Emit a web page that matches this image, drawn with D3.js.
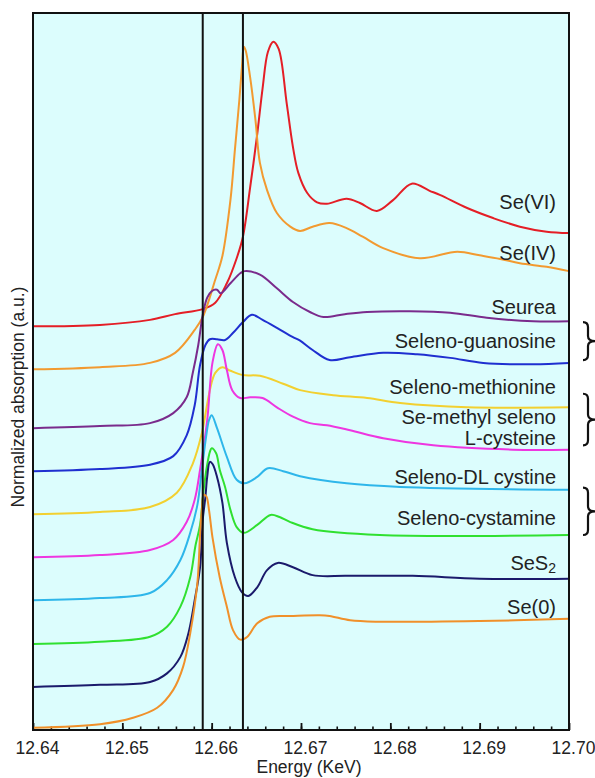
<!DOCTYPE html>
<html>
<head>
<meta charset="utf-8">
<script src="https://cdn.jsdelivr.net/npm/d3@7"></script>
<style>
  body { margin: 0; background: #fff; }
  svg text { font-family: "Liberation Sans", Arial, sans-serif; fill: #222; }
</style>
</head>
<body>
<script>
// Se K-edge XANES, energy (keV) vs normalized absorption (a.u., stacked with offsets)
const seVI = [[12.64,5.63],[12.6475,5.65],[12.6531,5.72],[12.6559,5.80],[12.659,5.87],[12.6604,5.96],
  [12.6617,6.23],[12.6628,6.58],[12.6635,6.88],[12.6643,7.56],[12.6651,8.31],[12.6657,8.95],[12.6663,9.46],
  [12.6669,9.60],[12.6675,9.50],[12.6684,8.74],[12.6691,8.13],[12.6697,7.77],[12.6707,7.49],
  [12.6718,7.36],[12.6729,7.34],[12.6751,7.41],[12.6766,7.35],[12.6785,7.24],[12.6803,7.39],[12.6824,7.62],
  [12.6844,7.52],[12.6856,7.46],[12.6886,7.28],[12.6915,7.14],[12.6945,7.02],[12.6975,6.95],[12.70,6.93]];
const seIV = [[12.64,5.03],[12.6475,5.06],[12.6531,5.12],[12.6559,5.26],[12.6581,5.58],[12.659,5.76],
  [12.6604,6.28],[12.6612,6.61],[12.6621,7.39],[12.6626,8.09],[12.6631,8.79],[12.6634,9.27],[12.6636,9.53],
  [12.6638,9.48],[12.6643,9.11],[12.6649,8.51],[12.6654,7.91],[12.6662,7.53],[12.6673,7.21],[12.6688,7.02],
  [12.6699,6.96],[12.6713,7.02],[12.6732,7.07],[12.6751,7.00],[12.6769,6.88],[12.6792,6.72],[12.6833,6.58],
  [12.6875,6.67],[12.69,6.62],[12.6923,6.57],[12.6945,6.51],[12.6975,6.46],[12.70,6.40]];
const seurea = [[12.64,4.21],[12.6475,4.24],[12.6531,4.28],[12.6557,4.42],[12.6572,4.64],[12.6579,4.99],
  [12.6585,5.37],[12.659,5.79],[12.6595,6.03],[12.66,6.12],[12.6606,6.14],[12.661,6.09],[12.6621,6.23],
  [12.6632,6.37],[12.6637,6.40],[12.6654,6.35],[12.6673,6.16],[12.6691,5.97],[12.671,5.83],[12.6725,5.76],
  [12.6749,5.80],[12.6774,5.83],[12.6822,5.84],[12.6867,5.82],[12.6908,5.75],[12.696,5.70],[12.70,5.70]];
const selenoGuanosine = [[12.64,3.61],[12.6475,3.64],[12.6531,3.70],[12.6557,3.82],[12.6572,4.11],[12.6581,4.53],
  [12.6587,5.09],[12.6593,5.37],[12.6598,5.45],[12.6606,5.45],[12.6615,5.44],[12.6624,5.54],[12.6635,5.69],
  [12.6645,5.79],[12.6657,5.72],[12.6673,5.61],[12.6691,5.48],[12.6699,5.43],[12.6713,5.30],[12.6732,5.16],
  [12.6755,5.20],[12.6792,5.26],[12.683,5.24],[12.6867,5.19],[12.6904,5.12],[12.696,5.10],[12.70,5.12]];
const selenoMethionine = [[12.64,3.01],[12.6475,3.04],[12.6531,3.11],[12.6561,3.31],[12.6579,3.72],[12.6589,4.14],
  [12.6598,4.74],[12.6604,4.98],[12.6612,5.06],[12.6621,5.01],[12.6635,4.95],[12.6654,4.94],[12.668,4.83],
  [12.6699,4.74],[12.6736,4.67],[12.6774,4.63],[12.6811,4.56],[12.6886,4.50],[12.70,4.50]];
const seMethylCysteine = [[12.64,2.41],[12.6475,2.44],[12.6531,2.51],[12.6557,2.65],[12.6572,2.90],[12.6581,3.21],
  [12.6587,3.63],[12.6595,4.32],[12.6601,5.13],[12.6607,5.38],[12.6612,5.30],[12.6617,5.02],[12.6623,4.74],
  [12.6632,4.63],[12.6643,4.64],[12.6657,4.63],[12.6673,4.50],[12.6691,4.37],[12.671,4.28],[12.6729,4.25],
  [12.6755,4.18],[12.6792,4.07],[12.6848,3.97],[12.6937,3.91],[12.70,3.91]];
const selenoCystine = [[12.64,1.81],[12.6475,1.84],[12.6531,1.91],[12.655,2.09],[12.6565,2.37],[12.6576,2.75],
  [12.6584,3.14],[12.6589,3.63],[12.6594,4.11],[12.6597,4.32],[12.66,4.39],[12.6606,4.21],[12.6617,3.81],
  [12.6628,3.49],[12.6637,3.44],[12.6651,3.53],[12.6663,3.65],[12.668,3.61],[12.6699,3.54],[12.6751,3.44],
  [12.6811,3.39],[12.70,3.35]];
const selenoCystamine = [[12.64,1.20],[12.6475,1.23],[12.6531,1.30],[12.655,1.44],[12.6565,1.72],[12.6576,2.13],
  [12.6582,2.58],[12.6587,2.86],[12.6591,3.35],[12.6595,3.70],[12.6598,3.88],[12.66,3.93],[12.6605,3.86],
  [12.6609,3.63],[12.6615,3.39],[12.6621,3.07],[12.6628,2.83],[12.6636,2.75],[12.6651,2.86],[12.6666,3.00],
  [12.6676,2.97],[12.6688,2.90],[12.6713,2.80],[12.6788,2.72],[12.70,2.72]];
const seS2 = [[12.64,0.60],[12.6475,0.63],[12.6531,0.67],[12.655,0.79],[12.6565,1.02],[12.6574,1.35],
  [12.6581,1.81],[12.6587,2.27],[12.659,2.93],[12.6593,3.25],[12.6595,3.53],[12.6598,3.74],[12.6601,3.71],
  [12.6606,3.53],[12.6612,3.17],[12.6617,2.61],[12.6626,2.13],[12.6634,1.92],[12.6641,1.87],[12.6651,1.99],
  [12.6662,2.23],[12.6674,2.33],[12.6691,2.27],[12.6713,2.16],[12.6751,2.15],[12.6825,2.15],[12.69,2.11],[12.70,2.11]];
const se0 = [[12.64,0.03],[12.6475,0.08],[12.6512,0.17],[12.6539,0.31],[12.6557,0.56],[12.6568,0.88],
  [12.6576,1.35],[12.6584,2.05],[12.6587,2.72],[12.6589,3.07],[12.6591,3.28],[12.6594,3.26],[12.6597,3.07],
  [12.6601,2.68],[12.6609,2.13],[12.6617,1.72],[12.6624,1.39],[12.6632,1.26],[12.664,1.30],[12.6651,1.49],
  [12.6665,1.58],[12.6688,1.59],[12.6721,1.60],[12.6732,1.59],[12.6755,1.53],[12.6788,1.51],[12.69,1.52],[12.70,1.55]];

const seriesData = [seVI, seIV, seurea, selenoGuanosine, selenoMethionine, seMethylCysteine,
  selenoCystine, selenoCystamine, seS2, se0];
const seriesNames = ["Se(VI)", "Se(IV)", "Seurea", "Seleno-guanosine", "Seleno-methionine",
  "Se-methyl seleno|L-cysteine", "Seleno-DL cystine", "Seleno-cystamine", "SeS2", "Se(0)"];
const xTicks = [12.64, 12.65, 12.66, 12.67, 12.68, 12.69, 12.70];
const edgeLines = [12.659, 12.6635];

// layout / style
const colors = ["#e41e26", "#f29a30", "#7a2b8c", "#1f2fd0", "#f2d030", "#ee36e0",
  "#2eb6ea", "#30e030", "#1b1a6b", "#f0902a"];
const labelY = [7.36, 6.65, 5.90, 5.43, 4.78, 4.36, 3.53, 2.96, 2.33, 1.72];
const braces = [[5.69, 5.16], [4.69, 3.97], [3.38, 2.72]];

const W = 595, H = 778;
const margin = { top: 13, right: 26, bottom: 48, left: 33 };
const width = W - margin.left - margin.right;
const height = H - margin.top - margin.bottom;

const svg = d3.select("body").append("svg")
  .attr("width", W)
  .attr("height", H);

const g = svg.append("g")
  .attr("transform", "translate(" + margin.left + "," + margin.top + ")");

const x = d3.scaleLinear().domain([12.64, 12.70]).range([0, width]);
const y = d3.scaleLinear().domain([0, 10]).range([height, 0]);

g.append("rect")
  .attr("width", width)
  .attr("height", height)
  .attr("fill", "#dcfdfd");

// minor and major ticks, pointing inward
g.append("g")
  .attr("transform", "translate(0," + height + ")")
  .call(d3.axisBottom(x).tickValues(d3.range(12.642, 12.699, 0.002)).tickSize(-3.5).tickSizeOuter(0).tickFormat(""))
  .call((a) => a.select(".domain").remove())
  .call((a) => a.selectAll("line").attr("stroke", "#111").attr("stroke-width", 1.6));

const xAxis = g.append("g")
  .attr("transform", "translate(0," + height + ")")
  .call(d3.axisBottom(x).tickValues(xTicks).tickSize(-7).tickSizeOuter(0).tickPadding(12).tickFormat(d3.format(".2f")));
xAxis.select(".domain").remove();
xAxis.selectAll("line").attr("stroke", "#111").attr("stroke-width", 1.8);
xAxis.selectAll("text")
  .attr("font-size", 17.5)
  .attr("dx", 4)
  .style("font-family", "'Liberation Sans', Arial, sans-serif")
  .attr("fill", "#222");

const line = d3.line()
  .x((d) => x(d[0]))
  .y((d) => y(d[1]))
  .curve(d3.curveCatmullRom.alpha(0.5));

g.selectAll("path.spectrum")
  .data(seriesData)
  .enter()
  .append("path")
  .attr("class", "spectrum")
  .attr("fill", "none")
  .attr("stroke", (d, i) => colors[i])
  .attr("stroke-width", 2)
  .attr("stroke-linejoin", "round")
  .attr("d", line);

g.selectAll("line.edge")
  .data(edgeLines)
  .enter()
  .append("line")
  .attr("class", "edge")
  .attr("x1", (d) => x(d))
  .attr("x2", (d) => x(d))
  .attr("y1", 0)
  .attr("y2", height)
  .attr("stroke", "#111")
  .attr("stroke-width", 2);

g.append("rect")
  .attr("width", width)
  .attr("height", height)
  .attr("fill", "none")
  .attr("stroke", "#111")
  .attr("stroke-width", 2);

// series labels
const labelX = width - 13;
seriesNames.forEach((name, i) => {
  const t = g.append("text")
    .attr("x", labelX)
    .attr("y", y(labelY[i]))
    .attr("text-anchor", "end")
    .attr("dominant-baseline", "central")
    .attr("font-size", 20);
  if (name === "SeS2") {
    t.append("tspan").text("SeS");
    t.append("tspan").text("2").attr("font-size", 14).attr("dy", 5);
  } else if (name.includes("|")) {
    const parts = name.split("|");
    t.append("tspan").attr("x", labelX).attr("dy", 0).text(parts[0]);
    t.append("tspan").attr("x", labelX).attr("dy", 21).text(parts[1]);
  } else {
    t.text(name);
  }
});

// curly braces grouping pairs
const braceX0 = width + 14, braceX1 = width + 26;
const bracePath = (top, bottom) => {
  const y0 = y(top), y1 = y(bottom), ym = (y0 + y1) / 2;
  const xm = (braceX0 + braceX1) / 2 - 1, r = 5;
  return "M" + braceX0 + "," + y0 +
    " Q" + xm + "," + y0 + " " + xm + "," + (y0 + r) +
    " L" + xm + "," + (ym - r) +
    " Q" + xm + "," + ym + " " + braceX1 + "," + ym +
    " Q" + xm + "," + ym + " " + xm + "," + (ym + r) +
    " L" + xm + "," + (y1 - r) +
    " Q" + xm + "," + y1 + " " + braceX0 + "," + y1;
};
g.selectAll("path.brace")
  .data(braces)
  .enter()
  .append("path")
  .attr("class", "brace")
  .attr("fill", "none")
  .attr("stroke", "#111")
  .attr("stroke-width", 2.2)
  .attr("d", (d) => bracePath(d[0], d[1]));

// axis titles
svg.append("text")
  .attr("x", 309)
  .attr("y", H - 11)
  .attr("text-anchor", "middle")
  .attr("dominant-baseline", "central")
  .attr("font-size", 17.5)
  .text("Energy (KeV)");

svg.append("text")
  .attr("transform", "translate(18," + 397 + ") rotate(-90)")
  .attr("text-anchor", "middle")
  .attr("dominant-baseline", "central")
  .attr("font-size", 17.5)
  .text("Normalized absorption (a.u.)");
</script>
</body>
</html>
